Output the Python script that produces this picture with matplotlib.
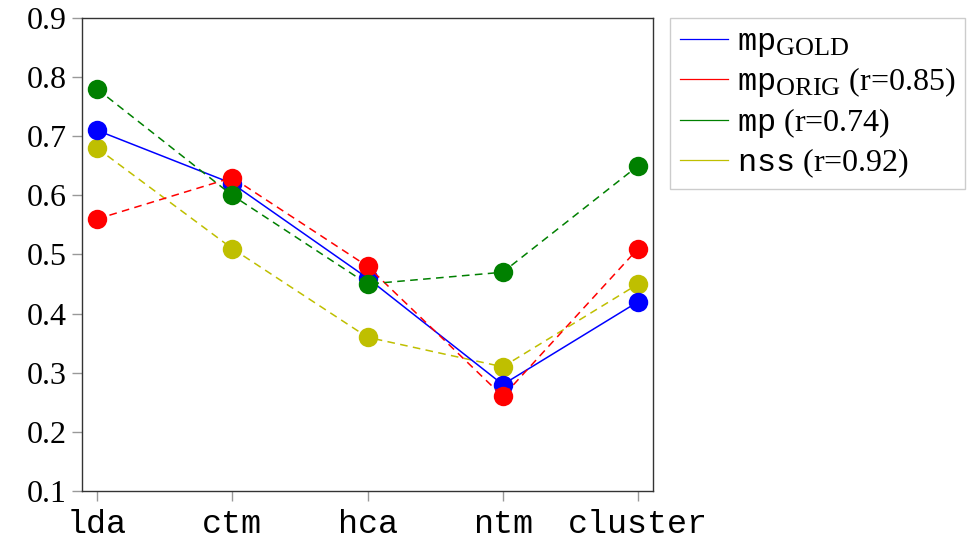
import matplotlib
matplotlib.use("Agg")
import matplotlib.pyplot as plt
import matplotlib._mathtext as mathtext_internals

plt.rcParams['font.family'] = ['Liberation Serif', 'DejaVu Serif']
plt.rcParams['mathtext.fontset'] = 'custom'
plt.rcParams['mathtext.tt'] = 'Liberation Mono'
plt.rcParams['mathtext.rm'] = 'Liberation Serif'
# larger subscripts in the legend labels
mathtext_internals.SHRINK_FACTOR = 0.82

methods = ['lda', 'ctm', 'hca', 'ntm', 'cluster']
mp_gold = [0.71, 0.62, 0.46, 0.28, 0.42]
mp_orig = [0.56, 0.63, 0.48, 0.26, 0.51]
mp_plain = [0.78, 0.60, 0.45, 0.47, 0.65]
nss = [0.68, 0.51, 0.36, 0.31, 0.45]
yticks = [0.1, 0.2, 0.3, 0.4, 0.5, 0.6, 0.7, 0.8, 0.9]

fig = plt.figure(figsize=(9.8, 5.47), dpi=100)
ax = fig.add_axes([0.0837, 0.1024, 0.5827, 0.8647])

x = list(range(len(methods)))
dash = (0, (5, 3.5))
ms = 14
lw = 1.1

# series: (values, colour, linestyle, label, zorder)
series = [
    (mp_gold, 'b', '-', r'$\mathtt{mp}_{\mathrm{GOLD}}$', 3),
    (mp_orig, 'r', dash, r'$\mathtt{mp}_{\mathrm{ORIG}}$ (r=0.85)', 4),
    (mp_plain, 'g', dash, r'$\mathtt{mp}$ (r=0.74)', 5),
    (nss, 'y', dash, r'$\mathtt{nss}$ (r=0.92)', 2),
]
for vals, c, ls, lab, z in series:
    ax.plot(x, vals, linestyle=ls, color=c, linewidth=lw, zorder=z)
    ax.plot(x, vals, 'o', color=c, markersize=ms, markeredgewidth=0, zorder=z)
    ax.plot([], [], '-', color=c, linewidth=0.9, label=lab)

ax.set_xlim(-0.111, 4.111)
ax.set_ylim(0.1, 0.9)
ax.set_yticks(yticks)
ax.set_yticklabels(['%.1f' % v for v in yticks], fontsize=23)
ax.set_xticks(x)
ax.set_xticklabels(methods, fontsize=24, family='Liberation Mono')
ax.tick_params(axis='both', direction='out', length=7, width=1, color='#999999')
ax.tick_params(axis='y', pad=4)
ax.tick_params(axis='x', pad=6)
for s in ax.spines.values():
    s.set_color('#333333')
    s.set_linewidth(1)

leg = ax.legend(loc='upper left', bbox_to_anchor=(1.03, 1.0), borderaxespad=0,
                fontsize=23, handlelength=1.5, handletextpad=0.3,
                labelspacing=0.2, fancybox=False, framealpha=1,
                edgecolor='#cccccc', borderpad=0.3)

fig.savefig('out.png', dpi=100)
